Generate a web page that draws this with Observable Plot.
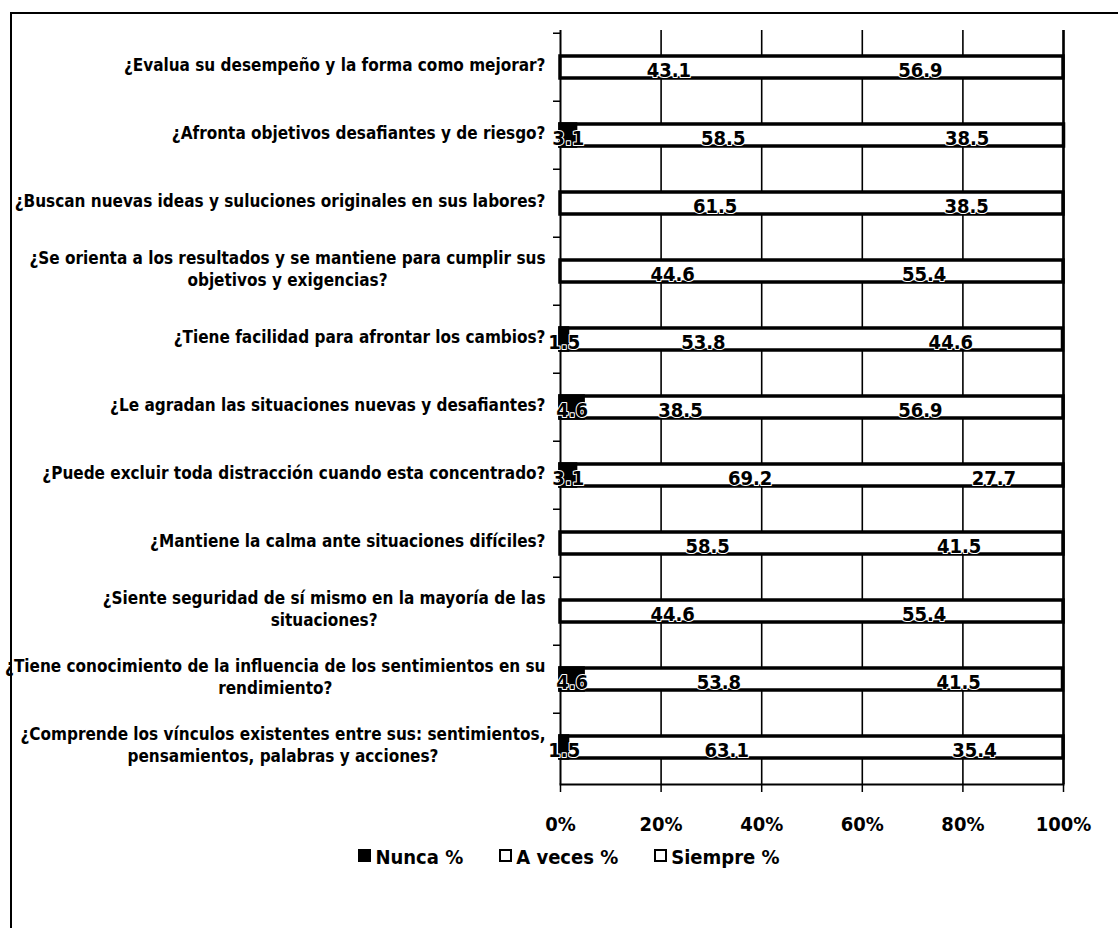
<!DOCTYPE html>
<html>
<head>
<meta charset="utf-8">
<script src="https://cdn.jsdelivr.net/npm/d3@7"></script>
<script src="https://cdn.jsdelivr.net/npm/@observablehq/plot@0.6"></script>
<style>
  html, body { margin: 0; padding: 0; background: #fff; }
  body { width: 1118px; height: 928px; position: relative; overflow: hidden; }
  #frame { position: absolute; left: 10px; top: 12px; width: 1120px; height: 940px;
           border-left: 2px solid #000; border-top: 2px solid #000; box-sizing: border-box; }
  #chart { position: absolute; left: 0; top: 0; }
  #legend { position: absolute; top: 845px; left: 0; width: 1118px; text-align: center;
            font-family: "DejaVu Sans Condensed", sans-serif;
            font-weight: bold; font-size: 20px; color: #000; padding-left: 20px; box-sizing: border-box; }
  #legend span.item { margin: 0 18px; white-space: nowrap; }
  #legend i { display: inline-block; width: 9px; height: 9px; border: 2px solid #000; margin-right: 4px; vertical-align: 2px; }
</style>
</head>
<body>
<div id="frame"></div>
<div id="chart"></div>
<div id="legend"></div>
<script>
const questions = [
  "¿Evalua su desempeño y la forma como mejorar?",
  "¿Afronta objetivos desafiantes y de riesgo?",
  "¿Buscan nuevas ideas y suluciones originales en sus labores?",
  "¿Se orienta a los resultados y se mantiene para cumplir sus\nobjetivos y exigencias?",
  "¿Tiene facilidad para afrontar los cambios?",
  "¿Le agradan las situaciones nuevas y desafiantes?",
  "¿Puede excluir toda distracción cuando esta concentrado?",
  "¿Mantiene la calma ante situaciones difíciles?",
  "¿Siente seguridad de sí mismo en la mayoría de las\nsituaciones?",
  "¿Tiene conocimiento de la influencia de los sentimientos en su\nrendimiento?",
  "¿Comprende los vínculos existentes entre sus: sentimientos,\npensamientos, palabras y acciones?"
];
const nunca   = [0, 3.1, 0, 0, 1.5, 4.6, 3.1, 0, 0, 4.6, 1.5];
const aVeces  = [43.1, 58.5, 61.5, 44.6, 53.8, 38.5, 69.2, 58.5, 44.6, 53.8, 63.1];
const siempre = [56.9, 38.5, 38.5, 55.4, 44.6, 56.9, 27.7, 41.5, 55.4, 41.5, 35.4];
const seriesNames = ["Nunca %", "A veces %", "Siempre %"];
const seriesFill = ["#000000", "#ffffff", "#ffffff"];
const xTicks = [0, 20, 40, 60, 80, 100];

const seriesValues = [nunca, aVeces, siempre];
const data = [];
questions.forEach((q, i) => {
  seriesNames.forEach((s, j) => data.push({question: q, series: s, value: seriesValues[j][i]}));
});
const totals = questions.map((q, i) => ({question: q, total: nunca[i] + aVeces[i] + siempre[i]}));

const FONT = '"DejaVu Sans Condensed", sans-serif';
const labelSize = 17;
const W = 1118, H = 844, mT = 30, mB = 60, mL = 560, mR = 55;
const step = (H - mT - mB) / questions.length;

const ctx = document.createElement("canvas").getContext("2d");
ctx.font = `bold ${labelSize}px ${FONT}`;
const gap = 15;
const single = questions.filter(q => !q.includes("\n"));
const multi = questions.filter(q => q.includes("\n"));

const labelMarks = [
  Plot.text(single, {x: () => 0, y: d => d, text: d => d, textAnchor: "end", dx: -gap, dy: -2,
    fontSize: labelSize, fontWeight: "bold", fontFamily: FONT, fill: "#000"})
];
multi.forEach(q => {
  const w = Math.max(...q.split("\n").map(l => ctx.measureText(l).width));
  labelMarks.push(Plot.text([q], {x: () => 0, y: d => d, text: d => d, textAnchor: "middle",
    dx: -(gap + w / 2), dy: -4, lineHeight: 1.3,
    fontSize: labelSize, fontWeight: "bold", fontFamily: FONT, fill: "#000"}));
});

const chart = Plot.plot({
  width: W, height: H,
  marginTop: mT, marginBottom: mB, marginLeft: mL, marginRight: mR,
  style: {fontFamily: FONT, background: "transparent"},
  x: {domain: [0, 100], ticks: xTicks, tickFormat: d => d + "%", label: null},
  y: {domain: questions, paddingInner: 0.68, paddingOuter: 0.34, label: null},
  color: {domain: seriesNames, range: seriesFill},
  marks: [
    Plot.gridX(xTicks.slice(1), {stroke: "#000", strokeOpacity: 1, strokeWidth: 1.6}),
    Plot.ruleX([100], {stroke: "#000", strokeWidth: 2.5}),
    Plot.ruleX([0], {stroke: "#000", strokeWidth: 2}),
    Plot.frame({anchor: "bottom", stroke: "#000", strokeWidth: 2}),
    Plot.axisY({tickSize: 7, tickFormat: () => "", dy: -step / 2, stroke: "#000", strokeWidth: 1.5}),
    Plot.axisX({ticks: xTicks, tickSize: 8, tickPadding: 24, fontSize: 20, fontWeight: "bold",
      fontFamily: FONT, tickFormat: d => d + "%", label: null, stroke: "#000", strokeWidth: 1.5}),
    Plot.barX(totals, {x: "total", y: "question", fill: "#fff", stroke: "#000", strokeWidth: 3.5}),
    Plot.barX(data, Plot.stackX({x: "value", y: "question", fill: "series", order: seriesNames,
      filter: d => d.series === "Nunca %" && d.value > 0, stroke: "#000", strokeWidth: 3.5})),
    Plot.text(data.filter(d => d.value > 0), Plot.stackX({x: "value", y: "question", z: "series",
      order: seriesNames, text: d => d.value.toFixed(1), dy: 3,
      fontSize: 20, fontWeight: "bold", fontFamily: FONT, fill: "#000", stroke: "#fff", strokeWidth: 2})),
    ...labelMarks
  ]
});
document.getElementById("chart").appendChild(chart);

const legend = document.getElementById("legend");
seriesNames.forEach((s, j) => {
  const item = document.createElement("span");
  item.className = "item";
  const sw = document.createElement("i");
  sw.style.background = seriesFill[j];
  item.appendChild(sw);
  item.appendChild(document.createTextNode(s));
  legend.appendChild(item);
});
</script>
</body>
</html>
